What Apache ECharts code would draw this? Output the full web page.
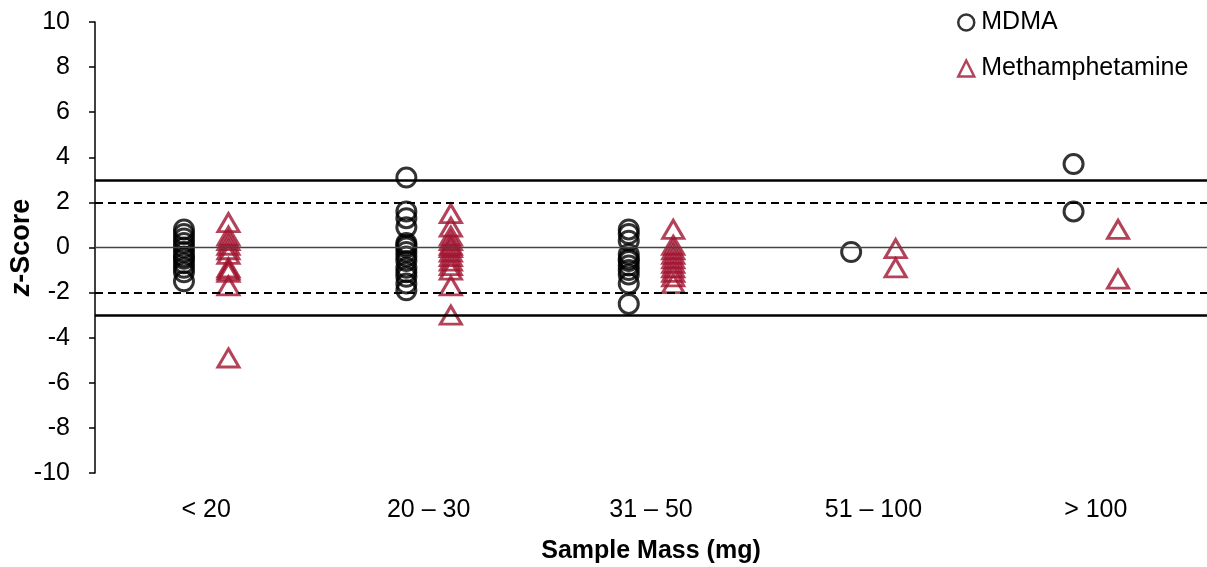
<!DOCTYPE html>
<html>
<head>
<meta charset="utf-8">
<script src="https://cdn.jsdelivr.net/npm/echarts@6/dist/echarts.min.js"></script>
<style>
  html, body { margin: 0; padding: 0; background: #fff; }
</style>
</head>
<body>
<div id="zChart" style="width: 1207px;height: 567px"></div>
<script>
  var categories = ['< 20', '20 – 30', '31 – 50', '51 – 100', '> 100'];
  var yTicks = [-10, -8, -6, -4, -2, 0, 2, 4, 6, 8, 10];

  // z-scores per mass bin
  var mdma = [
    [0.8, 0.6, 0.4, 0.2, 0.0, -0.2, -0.4, -0.5, -0.7, -0.9, -1.1, -1.5],
    [3.1, 1.6, 1.3, 0.9, 0.2, 0.1, 0.0, -0.2, -0.4, -0.6, -0.9, -1.1, -1.3, -1.6, -1.9],
    [0.8, 0.6, 0.3, -0.3, -0.5, -0.6, -0.8, -1.0, -1.2, -1.6, -2.5],
    [-0.2],
    [3.7, 1.6]
  ];
  var meth = [
    [1.1, 0.5, 0.3, 0.1, -0.1, -0.3, -0.9, -1.0, -1.1, -1.7, -4.9],
    [1.5, 0.9, 0.5, 0.3, 0.1, 0.0, -0.2, -0.4, -0.6, -0.8, -1.0, -1.7, -3.0],
    [0.8, 0.1, -0.1, -0.3, -0.5, -0.7, -0.9, -1.1, -1.3, -1.6],
    [-0.05, -0.9],
    [0.8, -1.4]
  ];

  var red = '#A0142F';
  var font = "'Liberation Sans', Arial, sans-serif";

  function toPoints(groups, shift) {
    var pts = [];
    for (var i = 0; i < groups.length; i++) {
      for (var j = 0; j < groups[i].length; j++) {
        pts.push([i + 0.5 + shift, groups[i][j]]);
      }
    }
    return pts;
  }

  var option = {
    backgroundColor: '#fff',
    animation: false,
    textStyle: { fontFamily: font, color: '#000' },
    grid: { left: 95, right: 0, top: 22, bottom: 94, containLabel: false, outerBoundsMode: 'none' },
    legend: {
      orient: 'vertical',
      left: 952,
      top: 5,
      itemGap: 21,
      itemWidth: 16,
      itemHeight: 16,
      textStyle: { fontSize: 25, color: '#000', fontFamily: font, padding: [0, 0, 0, 2] },
      data: [
        { name: 'MDMA', icon: 'circle', itemStyle: { color: 'rgba(0,0,0,0)', borderColor: '#000', borderWidth: 2.5 } },
        { name: 'Methamphetamine', icon: 'triangle', itemStyle: { color: 'rgba(0,0,0,0)', borderColor: red, borderWidth: 2.5 } }
      ]
    },
    xAxis: [{
      type: 'category',
      data: categories,
      position: 'bottom',
      boundaryGap: true,
      axisLine: { show: false },
      axisTick: { show: false },
      axisLabel: { fontSize: 25, color: '#000', margin: 25 },
      name: 'Sample Mass (mg)',
      nameLocation: 'middle',
      nameGap: 66,
      nameMoveOverlap: false,
      nameTextStyle: { fontSize: 25, fontWeight: 'bold', color: '#000' }
    }, {
      type: 'value',
      min: 0,
      max: 5,
      show: false
    }],
    yAxis: {
      type: 'value',
      min: -10,
      max: 10,
      interval: 2,
      axisLine: { show: true, onZero: false, lineStyle: { color: '#000', width: 1.5 } },
      axisTick: { show: true, length: 6, lineStyle: { color: '#000', width: 1.5 } },
      splitLine: { show: false },
      axisLabel: {
        fontSize: 25,
        color: '#000',
        margin: 25,
        customValues: yTicks
      },
      name: '{i|z}-Score',
      nameLocation: 'middle',
      nameGap: 60,
      nameMoveOverlap: false,
      nameRotate: 90,
      nameTextStyle: {
        fontSize: 27,
        fontWeight: 'bold',
        color: '#000',
        rich: {
          i: { fontSize: 27, fontWeight: 'bold', fontStyle: 'italic', color: '#000' }
        }
      }
    },
    series: [{
      name: 'MDMA',
      type: 'scatter',
      xAxisIndex: 1,
      symbol: 'circle',
      symbolSize: 19,
      itemStyle: { color: 'rgba(0,0,0,0)', borderColor: '#000', borderWidth: 3 },
      data: toPoints(mdma, -0.1),
      markLine: {
        silent: true,
        symbol: 'none',
        label: { show: false },
        data: [
          { yAxis: 3, lineStyle: { color: '#000', width: 2.5, type: 'solid' } },
          { yAxis: -3, lineStyle: { color: '#000', width: 2.5, type: 'solid' } },
          { yAxis: 2, lineStyle: { color: '#000', width: 2, type: [8, 5] } },
          { yAxis: -2, lineStyle: { color: '#000', width: 2, type: [8, 5] } },
          { yAxis: 0, lineStyle: { color: '#444', width: 1.3, type: 'solid' } }
        ]
      },
      z: 3
    }, {
      name: 'Methamphetamine',
      type: 'scatter',
      xAxisIndex: 1,
      symbol: 'triangle',
      symbolSize: [21, 18],
      itemStyle: { color: 'rgba(0,0,0,0)', borderColor: red, borderWidth: 3 },
      data: toPoints(meth, 0.1),
      z: 3
    }]
  };

  var chart = echarts.init(document.getElementById('zChart'));
  chart.setOption(option);
</script>
</body>
</html>
